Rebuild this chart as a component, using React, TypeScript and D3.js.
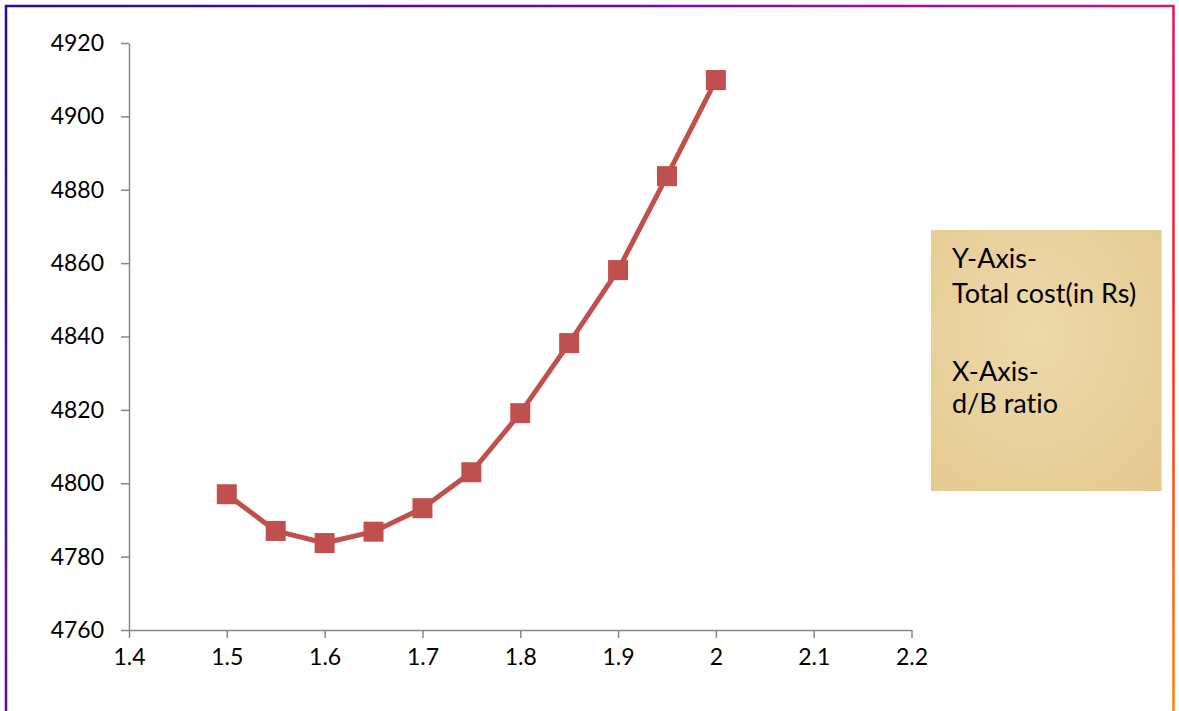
import React, { useEffect, useRef } from "react";
import * as d3 from "d3";

const xValues = [1.5, 1.55, 1.6, 1.65, 1.7, 1.75, 1.8, 1.85, 1.9, 1.95, 2.0];
const costValues = [4797, 4787, 4783.7, 4786.8, 4793.2, 4803, 4819.1, 4838.2, 4858.1, 4883.7, 4909.9];
const xTicks = [1.4, 1.5, 1.6, 1.7, 1.8, 1.9, 2.0, 2.1, 2.2];
const yTicks = [4760, 4780, 4800, 4820, 4840, 4860, 4880, 4900, 4920];
const noteLines = ["Y-Axis-", "Total cost(in Rs)", "", "X-Axis-", "d/B ratio"];

const W = 1179;
const H = 711;
const FONT = "Lato, 'Open Sans', sans-serif";

export default function App() {
  const ref = useRef<SVGSVGElement>(null);

  useEffect(() => {
    const svg = d3.select(ref.current);
    svg.selectAll("*").remove();

    const defs = svg.append("defs");
    const g = defs
      .append("linearGradient")
      .attr("id", "frameGrad")
      .attr("gradientUnits", "userSpaceOnUse")
      .attr("x1", 0)
      .attr("y1", 0)
      .attr("x2", 1179)
      .attr("y2", 800);
    [
      [0, "#1a10a0"],
      [0.35, "#6a0ab0"],
      [0.55, "#a80ca0"],
      [0.68, "#e0106a"],
      [0.8, "#ff2020"],
      [1, "#ff9a00"],
    ].forEach(([o, c]) => g.append("stop").attr("offset", o as number).attr("stop-color", c as string));

    const pg = defs
      .append("radialGradient")
      .attr("id", "papyrus")
      .attr("cx", "0.45")
      .attr("cy", "0.4")
      .attr("r", "0.8");
    pg.append("stop").attr("offset", 0).attr("stop-color", "#eed9ab");
    pg.append("stop").attr("offset", 1).attr("stop-color", "#e4c98f");

    svg
      .append("rect")
      .attr("x", 6)
      .attr("y", 6)
      .attr("width", 1167.5)
      .attr("height", 760)
      .attr("fill", "none")
      .attr("stroke", "url(#frameGrad)")
      .attr("stroke-width", 2.5);

    const x = d3.scaleLinear().domain([1.4, 2.2]).range([129, 911.5]);
    const y = d3.scaleLinear().domain([4760, 4920]).range([630, 43]);

    const xAxis = svg
      .append("g")
      .attr("transform", `translate(0,${y(4760)})`)
      .call(
        d3
          .axisBottom(x)
          .tickValues(xTicks)
          .tickSize(8)
          .tickSizeOuter(0)
          .tickPadding(11)
          .tickFormat((d) => String(+(+d).toFixed(2)))
      );
    const yAxis = svg
      .append("g")
      .attr("transform", `translate(${x(1.4)},0)`)
      .call(
        d3
          .axisLeft(y)
          .tickValues(yTicks)
          .tickSize(8)
          .tickSizeOuter(0)
          .tickPadding(17)
          .tickFormat((d) => String(d))
      );
    [xAxis, yAxis].forEach((a) => {
      a.selectAll("path,line").attr("stroke", "#868686").attr("stroke-width", 1.5);
      a.selectAll("text")
        .attr("font-family", FONT)
        .attr("font-size", 23)
        .attr("fill", "#000");
    });

    const pts = xValues.map((v, i) => [x(v), y(costValues[i])] as [number, number]);
    svg
      .append("path")
      .attr("d", d3.line()(pts))
      .attr("fill", "none")
      .attr("stroke", "#c0504d")
      .attr("stroke-width", 5)
      .attr("stroke-linejoin", "round");

    const s = 20;
    svg
      .append("g")
      .selectAll("rect")
      .data(pts)
      .join("rect")
      .attr("x", (d) => d[0] - s / 2)
      .attr("y", (d) => d[1] - s / 2)
      .attr("width", s)
      .attr("height", s)
      .attr("fill", "#c0504d");

    svg
      .append("rect")
      .attr("x", 931)
      .attr("y", 230)
      .attr("width", 230.5)
      .attr("height", 261)
      .attr("fill", "url(#papyrus)");
    const baselines = [268, 303, 342, 381, 413];
    svg
      .append("g")
      .selectAll("text")
      .data(noteLines)
      .join("text")
      .attr("x", 952)
      .attr("y", (_, i) => baselines[i])
      .attr("font-family", FONT)
      .attr("font-size", 27)
      .style("font-variant-ligatures", "none")
      .style("font-feature-settings", "'liga' 0, 'dlig' 0")
      .attr("fill", "#000")
      .text((d) => d);
  }, []);

  return (
    <svg
      ref={ref}
      width={W}
      height={H}
      style={{ position: "absolute", left: 0, top: 0, background: "#fff" }}
    />
  );
}
